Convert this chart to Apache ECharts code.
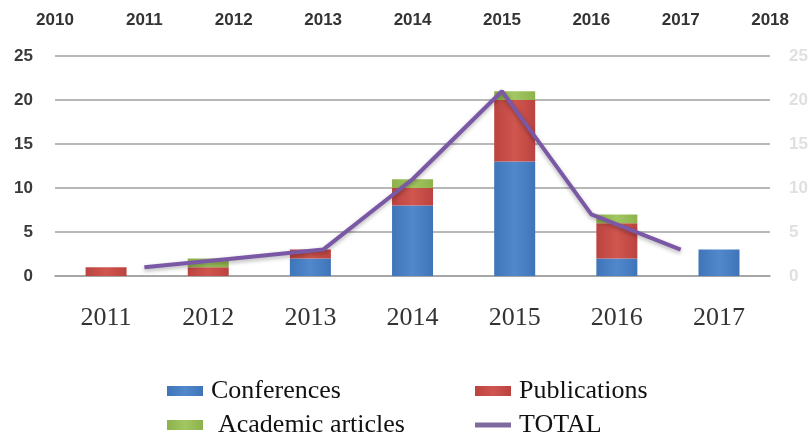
<!DOCTYPE html>
<html>
<head>
<meta charset="utf-8">
<script src="https://cdn.jsdelivr.net/npm/echarts@6/dist/echarts.min.js"></script>
<style>
html,body{margin:0;padding:0;background:#fff;}
#chart{width:811px;height:434px;}
</style>
</head>
<body>
<div id="chart"></div>
<script>
var categories = ['2011','2012','2013','2014','2015','2016','2017'];
var conferences = [0, 0, 2, 8, 13, 2, 3];
var publications = [1, 1, 1, 2, 7, 4, 0];
var academic = [0, 1, 0, 1, 1, 1, 0];
var totalYears = [2011, 2012, 2013, 2014, 2015, 2016, 2017];
var totalValues = [1, 2, 3, 11, 21, 7, 3];
var topTicks = [2010, 2011, 2012, 2013, 2014, 2015, 2016, 2017, 2018];
var yTicks = [0, 5, 10, 15, 20, 25];

var chart = echarts.init(document.getElementById('chart'));
var serif = "'Liberation Serif', 'DejaVu Serif', serif";
var legendText = {fontFamily: serif, fontSize: 26, color: '#111', padding: [0, 0, 0, 3]};

function barColor(c1, c2) {
  return new echarts.graphic.LinearGradient(0, 0, 1, 0, [
    {offset: 0, color: c1}, {offset: 0.5, color: c2}, {offset: 1, color: c1}
  ]);
}

var option = {
  animation: false,
  backgroundColor: '#fff',
  grid: {left: 55, right: 40, top: 56, bottom: 158},
  legend: [
    {left: 162, top: 373, itemWidth: 36, itemHeight: 10, data: [{name: 'Conferences', icon: 'rect'}], textStyle: legendText},
    {left: 470, top: 373, itemWidth: 36, itemHeight: 10, data: [{name: 'Publications', icon: 'rect'}], textStyle: legendText},
    {left: 162, top: 407, itemWidth: 36, itemHeight: 10, data: [{name: 'Academic articles', icon: 'rect'}], textStyle: {fontFamily: serif, fontSize: 26, color: '#111', padding: [0, 0, 0, 10]}},
    {left: 470, top: 407, itemWidth: 36, itemHeight: 5, data: [{name: 'TOTAL', icon: 'rect', itemStyle: {color: '#7e6a9c'}}], textStyle: legendText}
  ],
  xAxis: [
    {
      type: 'category', data: categories, position: 'bottom',
      axisLine: {show: true, lineStyle: {color: '#a0a0a0', width: 1.5}},
      axisTick: {show: false},
      axisLabel: {fontFamily: serif, fontSize: 26, color: '#333', margin: 29}
    },
    {
      type: 'value', position: 'top', min: topTicks[0], max: topTicks[topTicks.length - 1], interval: 1,
      axisLine: {show: false}, axisTick: {show: false}, splitLine: {show: false},
      axisLabel: {fontFamily: "'Liberation Sans', Arial, sans-serif", fontWeight: 'bold', fontSize: 17, color: '#333', margin: 27,
        formatter: function (v) { return String(v); }}
    }
  ],
  yAxis: [
    {
      type: 'value', min: yTicks[0], max: yTicks[yTicks.length - 1], interval: 5,
      axisLine: {show: false}, axisTick: {show: false},
      splitLine: {show: true, lineStyle: {color: '#a0a0a0', width: 1.5}},
      axisLabel: {fontFamily: "'Liberation Sans', Arial, sans-serif", fontWeight: 'bold', fontSize: 17, color: '#3a3a3a', margin: 22}
    },
    {
      type: 'value', min: yTicks[0], max: yTicks[yTicks.length - 1], interval: 5, position: 'right',
      axisLine: {show: false}, axisTick: {show: false}, splitLine: {show: false},
      axisLabel: {fontFamily: "'Liberation Sans', Arial, sans-serif", fontWeight: 'bold', fontSize: 17, color: '#e0e0e0', margin: 19}
    }
  ],
  series: [
    {name: 'Conferences', type: 'bar', stack: 'a', barWidth: 41, data: conferences,
      itemStyle: {color: barColor('#3f74b8', '#5188cc')}},
    {name: 'Publications', type: 'bar', stack: 'a', barWidth: 41, data: publications,
      itemStyle: {color: barColor('#bb4340', '#d0564f')}},
    {name: 'Academic articles', type: 'bar', stack: 'a', barWidth: 41, data: academic,
      itemStyle: {color: barColor('#8db24c', '#a2c661')}},
    {name: 'TOTAL', type: 'line', xAxisIndex: 1, yAxisIndex: 0, symbol: 'none',
      data: totalYears.map(function (y, i) { return [y, totalValues[i]]; }),
      lineStyle: {color: '#7a58a6', width: 4, shadowColor: 'rgba(0,0,0,0.3)', shadowBlur: 4, shadowOffsetY: 2},
      itemStyle: {color: '#7e6a9c'}}
  ]
};
chart.setOption(option);
</script>
</body>
</html>
